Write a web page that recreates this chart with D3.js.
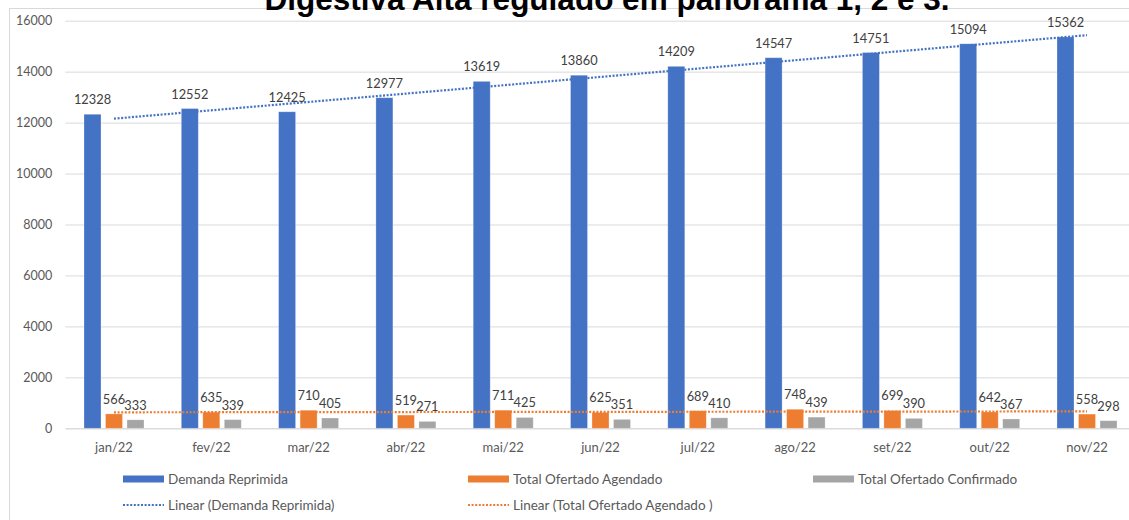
<!DOCTYPE html>
<html>
<head>
<meta charset="utf-8">
<script src="https://cdn.jsdelivr.net/npm/d3@7"></script>
<style>
  html, body { margin: 0; padding: 0; background: #fff; }
  svg { display: block; }
</style>
</head>
<body>
<svg id="chart" width="1129" height="520"></svg>
<script>
// Monthly data, 2022
const months = ["jan/22", "fev/22", "mar/22", "abr/22", "mai/22", "jun/22", "jul/22", "ago/22", "set/22", "out/22", "nov/22"];
const demandaReprimida = [12328, 12552, 12425, 12977, 13619, 13860, 14209, 14547, 14751, 15094, 15362];
const totalAgendado = [566, 635, 710, 519, 711, 625, 689, 748, 699, 642, 558];
const totalConfirmado = [333, 339, 405, 271, 425, 351, 410, 439, 390, 367, 298];
const seriesNames = ["Demanda Reprimida", "Total Ofertado Agendado", "Total Ofertado Confirmado"];
const yTicks = [0, 2000, 4000, 6000, 8000, 10000, 12000, 14000, 16000];
const titleText = "Digestiva Alta regulado em panorama 1, 2 e 3.";

const colors = ["#4472C4", "#ED7D31", "#A5A5A5"];
const textColor = "#595959";
const gridColor = "#D9D9D9";
const font = "Lato, 'Open Sans', sans-serif";

const svg = d3.select("#chart");

// Chart area border
svg.append("rect")
  .attr("x", 9.5).attr("y", 8.5)
  .attr("width", 1300).attr("height", 600)
  .attr("fill", "none").attr("stroke", gridColor).attr("stroke-width", 1);

// Scales
const y = d3.scaleLinear().domain([0, 16000]).range([428.3, 20.7]);
const x = d3.scaleBand().domain(months).range([65.35, 1135.65]).paddingInner(0).paddingOuter(0);
const xs = d3.scaleBand().domain(seriesNames).range([-30, 30]).paddingInner(0.209).paddingOuter(0);

// Gridlines and value axis
const yAxis = d3.axisLeft(y).tickValues(yTicks).tickSize(-(1135.65 - 65.35)).tickPadding(13).tickFormat(d3.format("d"));
const gy = svg.append("g").attr("transform", "translate(65.35,0)").call(yAxis);
gy.select(".domain").remove();
gy.selectAll(".tick line").attr("stroke", gridColor).attr("stroke-width", 1);
gy.selectAll(".tick text").attr("fill", textColor).attr("font-family", font).attr("font-size", 12.5);

// Category axis
const xAxis = d3.axisBottom(x).tickSize(0).tickPadding(14);
const gx = svg.append("g").attr("transform", `translate(0,${y(0)})`).call(xAxis);
gx.select(".domain").attr("stroke", gridColor);
gx.selectAll(".tick text").attr("fill", textColor).attr("font-family", font).attr("font-size", 13);

// Bars
const seriesData = [demandaReprimida, totalAgendado, totalConfirmado];
seriesData.forEach((vals, si) => {
  const g = svg.append("g");
  const rows = months.map((m, i) => ({ m, v: vals[i] }));
  g.selectAll("rect").data(rows).join("rect")
    .attr("x", d => x(d.m) + x.bandwidth() / 2 + xs(seriesNames[si]))
    .attr("y", d => y(d.v))
    .attr("width", xs.bandwidth())
    .attr("height", d => y(0) - y(d.v))
    .attr("fill", colors[si])
    .attr("stroke", "#fff").attr("stroke-opacity", 0.35).attr("stroke-width", 0.8);
});

// Linear trendlines (least squares over month index)
function linearFit(vals) {
  const xsIdx = vals.map((_, i) => i);
  const mx = d3.mean(xsIdx), my = d3.mean(vals);
  const slope = d3.sum(vals, (v, i) => (i - mx) * (v - my)) / d3.sum(xsIdx, i => (i - mx) ** 2);
  return i => my + slope * (i - mx);
}
const trendLine = d3.line()
  .x(d => x(months[d.i]) + x.bandwidth() / 2)
  .y(d => y(d.v));

[[demandaReprimida, colors[0]], [totalAgendado, colors[1]]].forEach(([vals, c]) => {
  const f = linearFit(vals);
  const pts = [0, vals.length - 1].map(i => ({ i, v: f(i) }));
  svg.append("path")
    .attr("d", trendLine(pts))
    .attr("fill", "none").attr("stroke", c)
    .attr("stroke-width", 2.2).attr("stroke-dasharray", "2,1.6");
});

// Data labels
seriesData.forEach((vals, si) => {
  svg.append("g").selectAll("text").data(vals).join("text")
    .attr("x", (v, i) => x(months[i]) + x.bandwidth() / 2 + xs(seriesNames[si]) + xs.bandwidth() / 2)
    .attr("y", v => y(v) - 10)
    .attr("text-anchor", "middle")
    .attr("fill", "#404040")
    .attr("font-family", font).attr("font-size", 12.8)
    .text(v => v);
});

// Legend
const legendRow1 = [
  { x: 123, name: seriesNames[0], c: colors[0] },
  { x: 468, name: seriesNames[1], c: colors[1] },
  { x: 813, name: seriesNames[2], c: colors[2] }
];
const legendRow2 = [
  { x: 123, name: "Linear (Demanda Reprimida)", c: colors[0] },
  { x: 468, name: "Linear (Total Ofertado Agendado )", c: colors[1] }
];
const lg = svg.append("g");
legendRow1.forEach(d => {
  lg.append("rect").attr("x", d.x).attr("y", 475.5).attr("width", 41).attr("height", 7).attr("fill", d.c);
  lg.append("text").attr("x", d.x + 45).attr("y", 479).attr("dy", "0.35em")
    .attr("fill", textColor).attr("font-family", font).attr("font-size", 13.5).text(d.name);
});
legendRow2.forEach(d => {
  lg.append("line").attr("x1", d.x).attr("x2", d.x + 41).attr("y1", 505).attr("y2", 505)
    .attr("stroke", d.c).attr("stroke-width", 2.2).attr("stroke-dasharray", "2,1.6");
  lg.append("text").attr("x", d.x + 45).attr("y", 505).attr("dy", "0.35em")
    .attr("fill", textColor).attr("font-family", font).attr("font-size", 13.5).text(d.name);
});

// Title
svg.append("text")
  .attr("x", 607).attr("y", 10)
  .attr("text-anchor", "middle")
  .attr("font-family", "'Liberation Sans', Arial, sans-serif")
  .attr("font-weight", "bold").attr("font-size", 31.5)
  .attr("fill", "#000")
  .text(titleText);
</script>
</body>
</html>
